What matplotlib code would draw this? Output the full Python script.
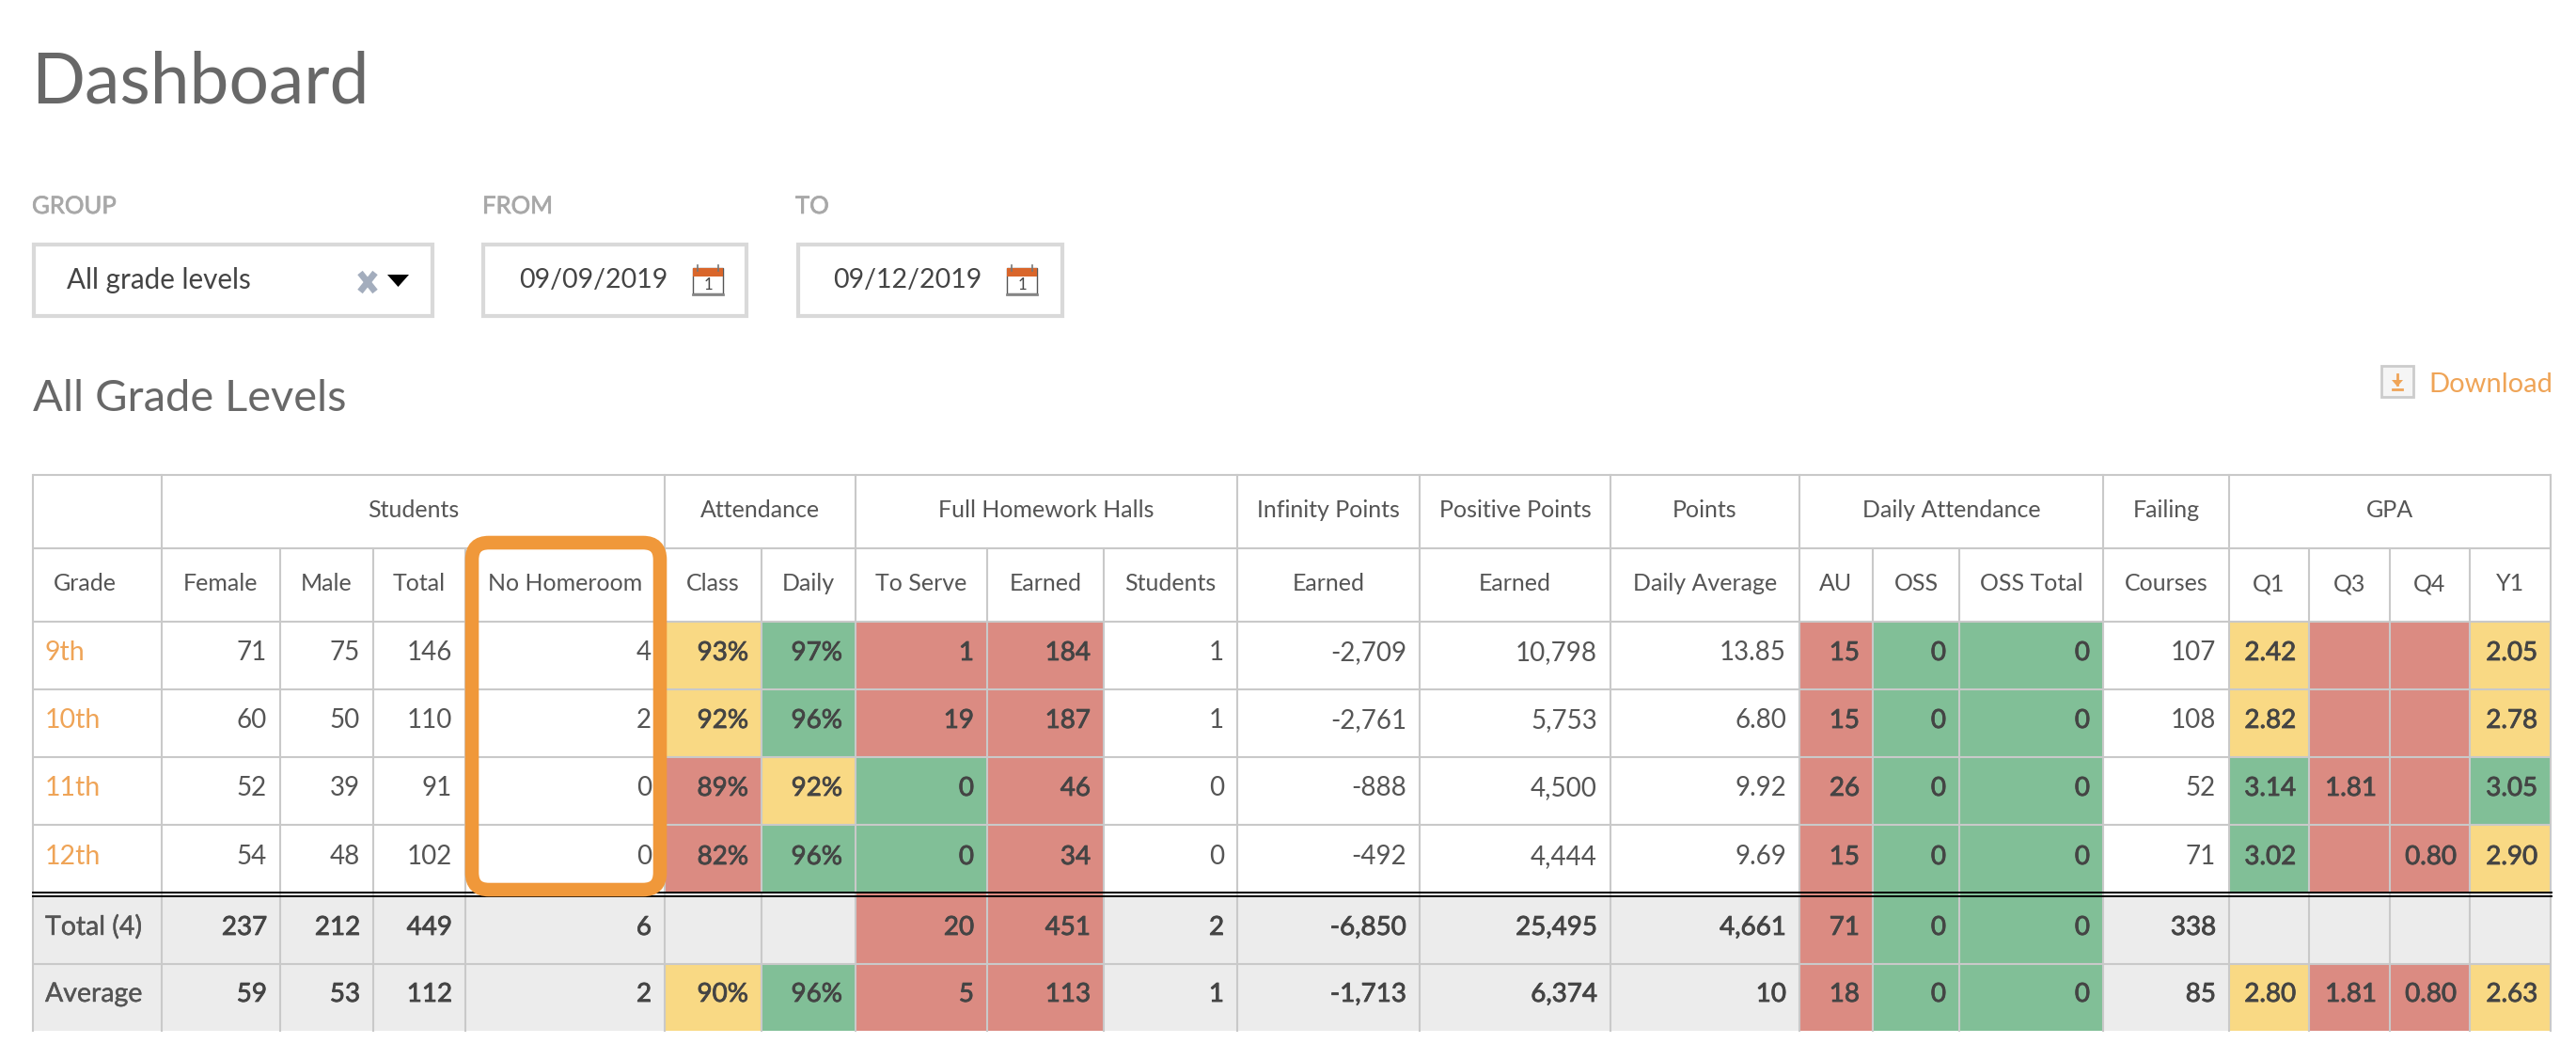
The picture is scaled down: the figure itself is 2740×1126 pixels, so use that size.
import matplotlib
matplotlib.use('Agg')
import matplotlib.pyplot as plt
import matplotlib.patheffects as pe
from matplotlib.patches import Rectangle, FancyBboxPatch, Polygon

plt.rcParams['font.family'] = ['Lato', 'DejaVu Sans']

# data, rows are 9th 10th 11th 12th Total Average
grades = ['9th', '10th', '11th', '12th', 'Total (4)', 'Average']
female = [71, 60, 52, 54, 237, 59]
male = [75, 50, 39, 48, 212, 53]
total = [146, 110, 91, 102, 449, 112]
no_homeroom = [4, 2, 0, 0, 6, 2]
att_class = [93, 92, 89, 82, None, 90]
att_daily = [97, 96, 92, 96, None, 96]
to_serve = [1, 19, 0, 0, 20, 5]
hw_earned = [184, 187, 46, 34, 451, 113]
hw_students = [1, 1, 0, 0, 2, 1]
infinity = [-2709, -2761, -888, -492, -6850, -1713]
positive = [10798, 5753, 4500, 4444, 25495, 6374]
points = [13.85, 6.80, 9.92, 9.69, 4661, 10]
au = [15, 15, 26, 15, 71, 18]
oss = [0, 0, 0, 0, 0, 0]
oss_total = [0, 0, 0, 0, 0, 0]
failing = [107, 108, 52, 71, 338, 85]
q1 = [2.42, 2.82, 3.14, 3.02, None, 2.80]
q3 = [None, None, 1.81, None, None, 1.81]
q4 = [None, None, None, 0.80, None, 0.80]
y1 = [2.05, 2.78, 3.05, 2.90, None, 2.63]

group_names = ['Students', 'Attendance', 'Full Homework Halls', 'Infinity Points', 'Positive Points',
               'Points', 'Daily Attendance', 'Failing', 'GPA']
col_names = ['Grade', 'Female', 'Male', 'Total', 'No Homeroom', 'Class', 'Daily', 'To Serve', 'Earned',
             'Students', 'Earned', 'Earned', 'Daily Average', 'AU', 'OSS', 'OSS Total', 'Courses',
             'Q1', 'Q3', 'Q4', 'Y1']

# cell colours, r g y, blank = no fill
att_class_c = 'yyrr y'
att_daily_c = 'ggyg g'
to_serve_c = 'rrggrr'
hw_earned_c = 'rrrrrr'
au_c = 'rrrrrr'
oss_c = 'gggggg'
q1_c = 'yygg y'
q3_c = 'rrrr r'
q4_c = 'rrrr r'
y1_c = 'yygy y'

# layout in pixels
col_x = [35, 172, 298, 397, 495, 707, 810, 910, 1050, 1174, 1316, 1510, 1713, 1914, 1992, 2084, 2237,
         2371, 2456, 2542, 2627, 2713]
group_x = [172, 707, 910, 1316, 1510, 1713, 1914, 2237, 2371, 2713]
row_y = [661, 733, 805, 877, 950, 1025, 1096]
head_y = [505, 583, 661]

RED = '#DB8B82'
GREEN = '#81BF97'
YELLOW = '#F9D984'
GREY_BG = '#ECECEC'
LINE = '#C9C9C9'
ORANGE = '#F0983A'
LINK = '#EFA457'
TXT = '#555555'
DARK = '#444444'
TITLE = '#686868'
fills = {'r': RED, 'g': GREEN, 'y': YELLOW}

fig = plt.figure(figsize=(27.4, 11.26), dpi=100)
ax = fig.add_axes([0, 0, 1, 1])
ax.set_xlim(0, 2740)
ax.set_ylim(1126, 0)
ax.axis('off')


def money(v):
    return f'{v:,}'


def pct(v):
    return f'{v}%'


def two(v):
    return f'{v:.2f}'


def pts(v):
    return f'{v:.2f}' if isinstance(v, float) else f'{v:,}'


def heavy(width, colour):
    # lato has no usable medium here, thicken the regular face a little
    return [pe.withStroke(linewidth=width, foreground=colour)]


columns = [
    (female, money, None), (male, money, None), (total, money, None), (no_homeroom, money, None),
    (att_class, pct, att_class_c), (att_daily, pct, att_daily_c),
    (to_serve, money, to_serve_c), (hw_earned, money, hw_earned_c), (hw_students, money, None),
    (infinity, money, None), (positive, money, None), (points, pts, None),
    (au, money, au_c), (oss, money, oss_c), (oss_total, money, oss_c), (failing, money, None),
    (q1, two, q1_c), (q3, two, q3_c), (q4, two, q4_c), (y1, two, y1_c),
]

# grey background of the two summary rows
ax.add_patch(Rectangle((col_x[0], row_y[4]), col_x[-1] - col_x[0], row_y[6] - row_y[4], fc=GREY_BG, ec='none', zorder=1))

for c, (vals, fmt, colours) in enumerate(columns):
    x0, x1 = col_x[c + 1], col_x[c + 2]
    for r, v in enumerate(vals):
        top, bot = row_y[r], row_y[r + 1]
        colour = colours[r] if colours else ' '
        if colour != ' ':
            ax.add_patch(Rectangle((x0, top), x1 - x0, bot - top, fc=fills[colour], ec='none', zorder=2))
        if v is None:
            continue
        strong = r >= 4 or colour != ' '
        col = DARK if strong else TXT
        t = ax.text(x1 - 14, bot - 31, fmt(v), ha='right', va='baseline', fontsize=20, color=col, zorder=5)
        if strong:
            t.set_path_effects(heavy(0.6, col))

for r, g in enumerate(grades):
    col = LINK if r < 4 else TXT
    t = ax.text(48, row_y[r + 1] - 31, g, ha='left', va='baseline', fontsize=20.5, color=col, zorder=5)
    if r >= 4:
        t.set_path_effects(heavy(0.3, col))

# grid
for y in head_y + row_y[1:4] + [row_y[5]]:
    ax.plot([col_x[0], col_x[-1]], [y, y], color=LINE, lw=1.5, zorder=3, solid_capstyle='butt')
ax.plot([col_x[0], col_x[0]], [head_y[0], row_y[6]], color=LINE, lw=1.5, zorder=3)
ax.plot([col_x[-1], col_x[-1]], [head_y[0], row_y[6]], color=LINE, lw=1.5, zorder=3)
for x in group_x:
    ax.plot([x, x], [head_y[0], head_y[1]], color=LINE, lw=1.5, zorder=3)
for x in col_x[1:-1]:
    ax.plot([x, x], [head_y[1], row_y[6]], color=LINE, lw=1.5, zorder=3)
# double rule under the grades
ax.plot([col_x[0], col_x[-1] + 1], [948.5, 948.5], color='black', lw=1.4, zorder=4)
ax.plot([col_x[0], col_x[-1] + 1], [953, 953], color='black', lw=1.4, zorder=4)

# headers
for name, x0, x1 in zip(group_names, group_x[:-1], group_x[1:]):
    ax.text((x0 + x1) / 2, head_y[1] - 33, name, ha='center', va='baseline', fontsize=18, color=TXT, zorder=5)
for i, name in enumerate(col_names):
    xc = (col_x[i] + col_x[i + 1]) / 2
    if i == 0:
        xc = 90
    ax.text(xc, head_y[2] - 33, name, ha='center', va='baseline', fontsize=18, color=TXT, zorder=5)

# orange highlight box
ax.add_patch(FancyBboxPatch((517, 592), 170, 339, boxstyle='round,pad=15,rounding_size=18', fc='none', ec=ORANGE,
                            lw=10.5, zorder=6))

# page title and filters
ax.text(33, 109, 'Dashboard', fontsize=54, color=TITLE, va='baseline')
ax.text(35, 437, 'All Grade Levels', fontsize=33.8, color=TITLE, va='baseline')
for label, x in [('GROUP', 34), ('FROM', 513), ('TO', 846)]:
    t = ax.text(x, 227, label, fontsize=18.5, color='#A8A8A8', va='baseline')
    t.set_path_effects(heavy(0.5, '#A8A8A8'))
for x0, x1 in [(34, 462), (512, 796), (847, 1132)]:
    ax.add_patch(Rectangle((x0 + 2, 260), x1 - x0 - 4, 76, fc='white', ec='#D9D9D9', lw=3))
ax.text(71, 307, 'All grade levels', fontsize=21.3, color='#444444', va='baseline')
ax.text(552, 306, '09/09/2019', fontsize=20.5, color='#444444', va='baseline')
ax.text(886, 306, '09/12/2019', fontsize=20.5, color='#444444', va='baseline')

# clear icon and dropdown arrow
ax.plot([383, 399], [290, 310], color='#A3ADBD', lw=5, solid_capstyle='butt')
ax.plot([399, 383], [290, 310], color='#A3ADBD', lw=5, solid_capstyle='butt')
ax.add_patch(Polygon([(412, 292), (435, 292), (423.5, 305)], fc='black', ec='none'))

# calendar icons
for x in [737, 1071]:
    ax.add_patch(Rectangle((x, 285), 32, 27, fc='white', ec='#555555', lw=1))
    ax.add_patch(Rectangle((x, 285), 32, 9, fc='#D9662B', ec='none'))
    ax.plot([x + 5, x + 5], [282, 288], color='#777777', lw=1.2)
    ax.plot([x + 27, x + 27], [282, 288], color='#777777', lw=1.2)
    ax.plot([x, x + 32], [312.5, 312.5], color='#888888', lw=2)
    ax.text(x + 16, 308, '1', fontsize=12, color='#444444', ha='center', va='baseline')

# download link
ax.add_patch(Rectangle((2533, 389), 34, 33, fc='#F5F5F5', ec='#CCCCCC', lw=2))
ax.plot([2550, 2550], [398, 409], color=LINK, lw=2)
ax.add_patch(Polygon([(2544, 404), (2556, 404), (2550, 411)], fc=LINK, ec='none'))
ax.plot([2545, 2555], [413.5, 413.5], color=LINK, lw=2)
ax.text(2583, 417, 'Download', fontsize=21, color=LINK, va='baseline')

fig.savefig('out.png', dpi=100)
